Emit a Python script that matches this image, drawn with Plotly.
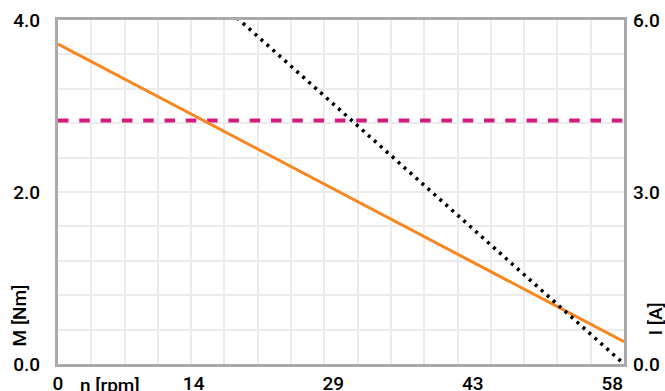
import plotly.graph_objects as go

# Speed axis (rpm): characteristic endpoints
speed = [0, 58]
torque = [3.72, 0.26]          # M [Nm], left axis
current = [8.83, 0.0]          # I [A], right axis
torque_limit = [2.83, 2.83]    # dashed reference level, left axis

x_tick_vals = [0, 13.9, 28.2, 42.5, 56.8]
x_tick_text = ["0", "14", "29", "43", "58"]
y_left_ticks = [0, 2, 4]
y_right_ticks = [0, 3, 6]

FONT = "Roboto, Liberation Sans, Arial, sans-serif"
GRID = "#EBEBEB"
BORDER = "#A9A9AD"
TEXT = "#000000"

fig = go.Figure()

fig.add_trace(go.Scatter(
    x=speed, y=torque_limit, mode="lines", yaxis="y",
    line=dict(color="#D41A7F", width=4, dash="10.5px,10.8px"),
    hoverinfo="skip", showlegend=False,
))
fig.add_trace(go.Scatter(
    x=speed, y=torque, mode="lines", yaxis="y",
    line=dict(color="#F7861F", width=3),
    hoverinfo="skip", showlegend=False,
))
fig.add_trace(go.Scatter(
    x=speed, y=current, mode="lines", yaxis="y2",
    line=dict(color="#000000", width=3.5, dash="3px,5px"),
    hoverinfo="skip", showlegend=False,
))

label_font = dict(family=FONT, size=19, color=TEXT, weight=500)

fig.update_layout(
    width=665, height=391,
    margin=dict(l=58, r=41, t=20, b=27, autoexpand=False),
    paper_bgcolor="white", plot_bgcolor="white",
    font=label_font,
    xaxis=dict(
        range=[0, 58], tickmode="array", tickvals=x_tick_vals, ticktext=x_tick_text,
        showgrid=False, zeroline=False, ticks="", ticklabelstandoff=0,
        showline=True, linecolor=BORDER, linewidth=3, mirror=True,
        tickfont=label_font, automargin=False,
        minor=dict(tickmode="linear", tick0=0, dtick=58 / 17, showgrid=True,
                   gridcolor=GRID, gridwidth=1.5, ticks=""),
    ),
    yaxis=dict(
        range=[0, 4], tickmode="array", tickvals=y_left_ticks, tickformat=".1f",
        showgrid=False, zeroline=False, ticks="", ticklabelstandoff=11,
        showline=True, linecolor=BORDER, linewidth=3, mirror=True,
        tickfont=label_font, automargin=False,
        minor=dict(tickmode="linear", tick0=0, dtick=0.4, showgrid=True,
                   gridcolor=GRID, gridwidth=1.5, ticks=""),
    ),
    yaxis2=dict(
        range=[0, 6], tickmode="array", tickvals=y_right_ticks, tickformat=".1f",
        overlaying="y", side="right", showgrid=False, zeroline=False,
        ticks="", ticklabelstandoff=8, showline=False,
        tickfont=label_font, automargin=False,
    ),
    annotations=[
        dict(text="M [Nm]", xref="paper", yref="paper", x=-0.068, y=0.044,
             xanchor="center", yanchor="bottom", textangle=-90, showarrow=False,
             font=label_font),
        dict(text="I [A]", xref="paper", yref="paper", x=1.056, y=0.078,
             xanchor="center", yanchor="bottom", textangle=-90, showarrow=False,
             font=label_font),
        dict(text="n [rpm]", xref="paper", yref="paper", x=0.035, y=-0.022,
             xanchor="left", yanchor="top", showarrow=False,
             font=label_font),
    ],
)

fig.write_html("out.html", config={"displayModeBar": False})
